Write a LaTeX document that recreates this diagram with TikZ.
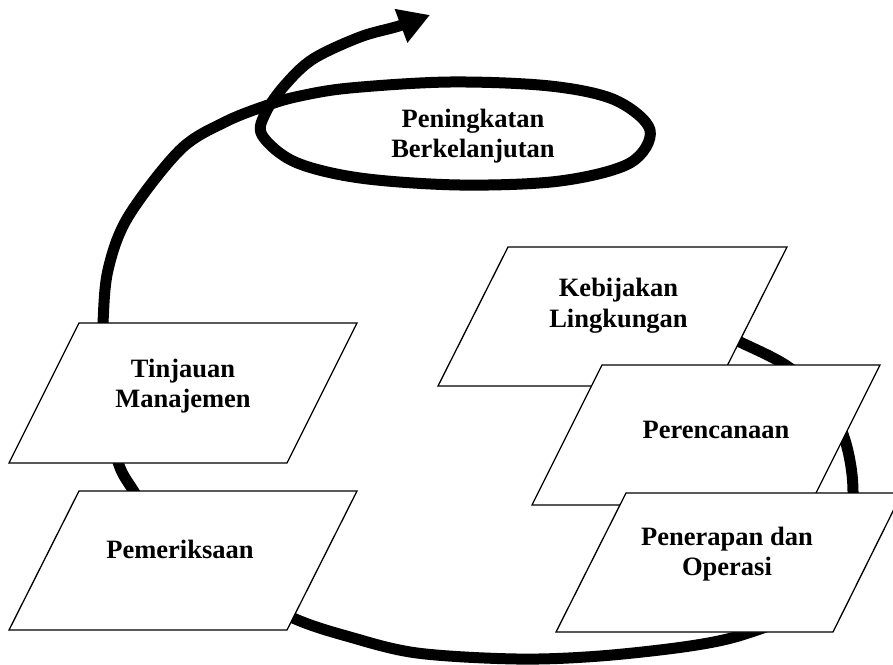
\documentclass[tikz,border=0pt]{standalone}
\usepackage{fontspec}
\setmainfont{Liberation Serif}
\usetikzlibrary{arrows.meta}
\tikzset{
  spiral/.style={line width=11pt, line cap=butt, line join=round,
    -{Triangle[length=31pt,width=34pt]}},
  para/.style={draw=black, fill=white, line width=1.3pt, line join=miter},
  lbl/.style={font=\fontsize{26.5}{30.5}\selectfont\bfseries, align=center, inner sep=0pt}
}
\begin{document}
\begin{tikzpicture}[x=1pt,y=-1pt]
\useasboundingbox (0,0) rectangle (893,664);
\clip (0,0) rectangle (893,664);
% spiral
\draw[spiral] plot[smooth, tension=0.55] coordinates {
 (705,326) (740,342) (787,366) (825,400) (845,440) (853,492) (845,560)
 (800,610) (745,634) (690,646) (600,656) (517,659) (417,653) (350,637)
 (293,618) (220,580) (160,530) (133,490) (119,465) (108,420) (103,360)
 (103,323) (108,270) (128,217) (180,150) (225,122) (268,105) (300,96)
 (350,88) (450,82) (550,86) (615,100) (650,130) (630,163) (560,181)
 (460,185) (360,178) (295,162) (262,135) (266,112) (285,85) (313,59)
 (360,37) (399,26) (430,15)};
% parallelograms
\path[para] (79,323) -- (357,323) -- (287,463) -- (9,463) -- cycle;
\path[para] (79,491) -- (357,491) -- (287,630) -- (9,630) -- cycle;
\path[para] (508,247) -- (787,247) -- (717,386) -- (438,386) -- cycle;
\path[para] (602,365) -- (880,365) -- (810,505) -- (532,505) -- cycle;
\path[para] (626,493) -- (902,493) -- (833,632) -- (556,632) -- cycle;
% labels
\node[lbl] (pk) at (473,136.4) {\strut Peningkatan\\\strut Berkelanjutan};
\node[lbl] (kl) at (618.5,305.9) {\strut Kebijakan\\\strut Lingkungan};
\node[lbl] (pr) at (716,431.9) {\strut Perencanaan};
\node[lbl] (po) at (727,554.4) {\strut Penerapan dan\\\strut Operasi};
\node[lbl] (tm) at (183,386.4) {\strut Tinjauan\\\strut Manajemen};
\node[lbl] (pm) at (180,551.9) {\strut Pemeriksaan};
\end{tikzpicture}
\end{document}
